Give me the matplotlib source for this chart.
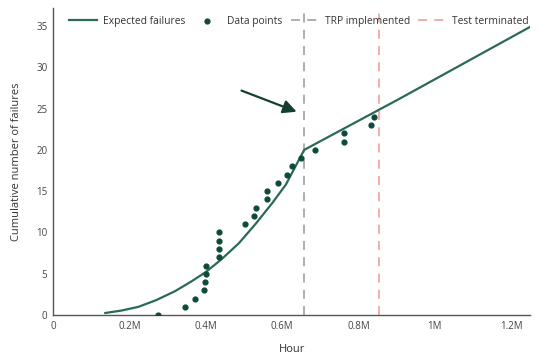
import numpy as np
import matplotlib.pyplot as plt
from matplotlib.ticker import FuncFormatter

plt.rcParams['font.family'] = ['Open Sans', 'DejaVu Sans']

# expected failures curve (hours, cumulative failures)
curve_hours = [0.137e6, 0.18e6, 0.224e6, 0.27e6, 0.32e6, 0.36e6, 0.40e6, 0.44e6, 0.487e6,
               0.53e6, 0.575e6, 0.61e6, 0.658e6, 0.908e6, 1.25e6]
curve_fail = [0.25, 0.55, 1.0, 1.8, 2.9, 4.0, 5.2, 6.7, 8.7, 11.0, 13.6, 15.8, 20.0, 26.2, 34.9]

# observed failures
data_hours = [0.276e6, 0.347e6, 0.373e6, 0.395e6, 0.397e6, 0.402e6, 0.402e6, 0.434e6, 0.434e6,
              0.434e6, 0.434e6, 0.503e6, 0.526e6, 0.532e6, 0.561e6, 0.561e6, 0.590e6, 0.612e6,
              0.627e6, 0.649e6, 0.687e6, 0.763e6, 0.763e6, 0.833e6, 0.840e6]
data_fail = list(range(25))

trp_hour = 0.658e6
test_end_hour = 0.853e6

fig = plt.figure(figsize=(5.38, 3.56), dpi=100)
ax = fig.add_axes([0.0985, 0.115, 0.887, 0.863])

ax.plot(curve_hours, curve_fail, color='#2b6a58', linewidth=1.6, label='Expected failures', zorder=3)
ax.scatter(data_hours, data_fail, color='#0e4a3a', s=12, label='Data points', zorder=4)
ax.axvline(trp_hour, color='#a8a8a8', linestyle=(0, (5, 4)), linewidth=1.3, label='TRP implemented', zorder=2)
ax.axvline(test_end_hour, color='#f2a7a0', linestyle=(0, (5, 4)), linewidth=1.3, label='Test terminated', zorder=2)

ax.annotate('', xy=(0.645e6, 24.5), xytext=(0.487e6, 27.3),
            arrowprops=dict(arrowstyle='-|>,head_length=0.8,head_width=0.4', color='#163f33', lw=1.6))

ax.set_xlim(0, 1.25e6)
ax.set_ylim(0, 37.2)
ax.set_xticks([0, 0.2e6, 0.4e6, 0.6e6, 0.8e6, 1.0e6, 1.2e6])
ax.xaxis.set_major_formatter(FuncFormatter(lambda v, p: '0' if v == 0 else f'{v / 1e6:g}M'))
ax.set_yticks(range(0, 36, 5))
ax.tick_params(length=0, labelsize=7, colors='#444444', pad=4)

for s in ['top', 'right']:
    ax.spines[s].set_visible(False)
for s in ['left', 'bottom']:
    ax.spines[s].set_color('#555555')
    ax.spines[s].set_linewidth(1.0)

ax.set_xlabel('Hour', fontsize=8, color='#333333', labelpad=9)
ax.set_ylabel('Cumulative number of failures', fontsize=8, color='#333333', labelpad=10)

ax.legend(loc='upper center', bbox_to_anchor=(0.515, 1.005), ncol=4, frameon=False, fontsize=7.4,
          handlelength=2.7, columnspacing=0.8, handletextpad=0.6, labelcolor='#333333')

fig.savefig('out.png', dpi=100)
